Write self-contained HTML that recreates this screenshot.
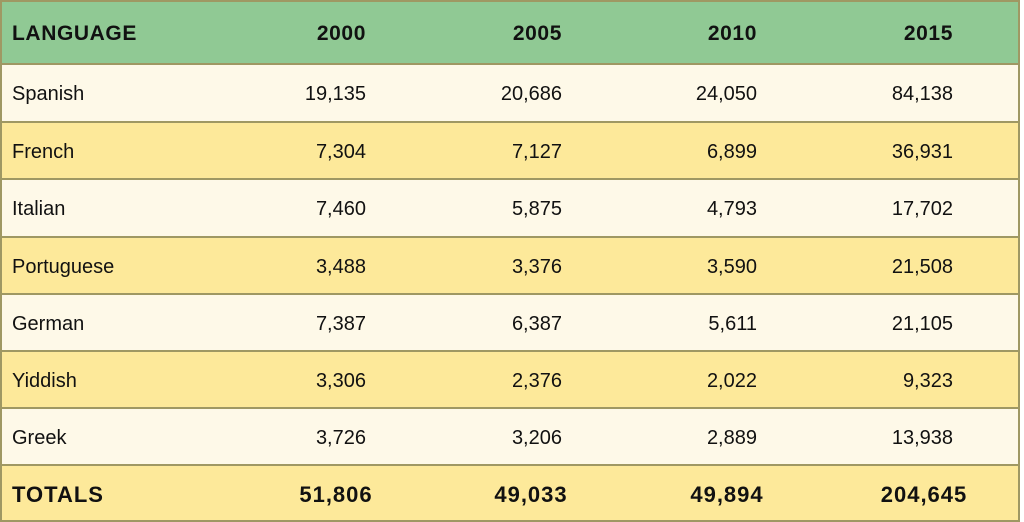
<!DOCTYPE html>
<html><head><style>
body{margin:0;width:1024px;height:522px;overflow:hidden;background:#fff;font-family:"Liberation Sans",sans-serif;color:#111}
.r{position:absolute;left:0;width:1020px;border:2px solid #9f9863;border-bottom:none;box-sizing:border-box}
.t{position:absolute;font-size:20px;line-height:24px}
.b{font-weight:bold;font-size:21px;letter-spacing:0.6px}
.tot{font-size:22px;letter-spacing:1px}
</style></head><body>
<div id="w"></div>
<script>
const rows=[
["LANGUAGE","2000","2005","2010","2015"],
["Spanish","19,135","20,686","24,050","84,138"],
["French","7,304","7,127","6,899","36,931"],
["Italian","7,460","5,875","4,793","17,702"],
["Portuguese","3,488","3,376","3,590","21,508"],
["German","7,387","6,387","5,611","21,105"],
["Yiddish","3,306","2,376","2,022","9,323"],
["Greek","3,726","3,206","2,889","13,938"],
["TOTALS","51,806","49,033","49,894","204,645"]];
const tops=[0,63,121,178,236,293,350,407,464,522];
const bg=["#90c994","#fef9e8","#fde99a","#fef9e8","#fde99a","#fef9e8","#fde99a","#fef9e8","#fde99a"];
const rights=[366,562,757,953];
const centers=[336,531,727,924];
let h="";
rows.forEach((r,i)=>{
 const top=tops[i],ht=tops[i+1]-top;
 h+=`<div class="r" style="top:${top}px;height:${ht}px;background:${bg[i]};${i==8?'border-bottom:2px solid #9f9863;':''}"></div>`;
 const ty=top+ht/2-12+2;
 const bold=(i==0||i==8)?" b":"";
 const tot=i==8?" tot":"";
 h+=`<div class="t${bold}${tot}" style="left:12px;top:${ty}px">${r[0]}</div>`;
 for(let c=1;c<5;c++){
  if(i==8) h+=`<div class="t b tot" style="left:${centers[c-1]-100}px;width:200px;text-align:center;top:${ty}px">${r[c]}</div>`;
  else h+=`<div class="t${bold}" style="left:${rights[c-1]-200}px;width:200px;text-align:right;top:${ty}px">${r[c]}</div>`;
 }
});
document.getElementById("w").innerHTML=h;
</script>
</body></html>
